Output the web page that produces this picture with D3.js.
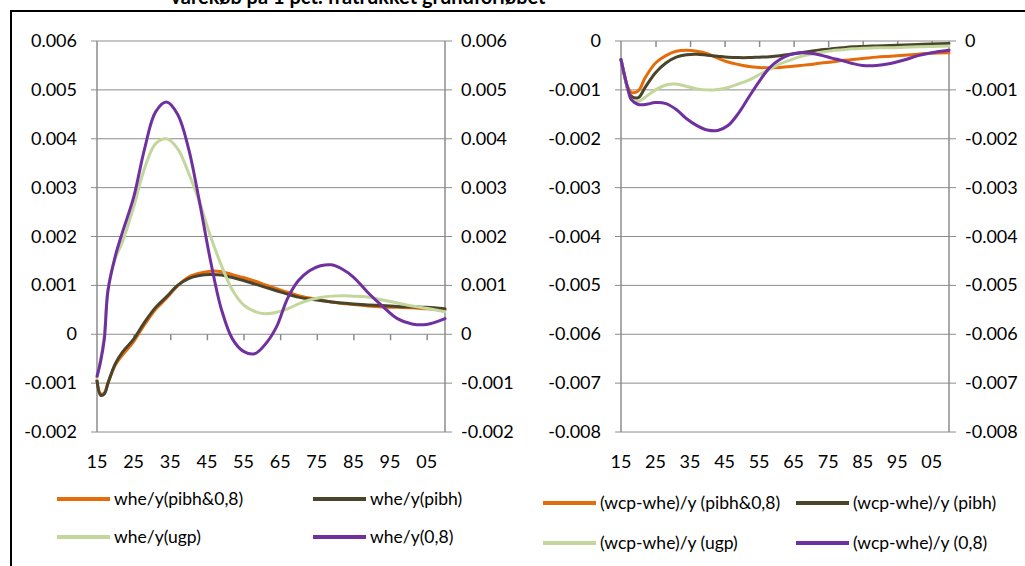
<!DOCTYPE html>
<html>
<head>
<meta charset="utf-8">
<script src="https://cdn.jsdelivr.net/npm/d3@7"></script>
<style>
  body { margin: 0; background: #fff; }
  text { font-family: Lato, "Open Sans", sans-serif; fill: #000; }
</style>
</head>
<body>
<div id="chart"></div>
<script>
// 1. Dados
const years = [2015, 2016, 2017, 2018, 2020, 2022, 2025, 2028, 2031, 2034, 2037, 2040, 2043, 2046, 2049,
  2052, 2055, 2058, 2061, 2064, 2067, 2070, 2073, 2076, 2079, 2082, 2085, 2089, 2093, 2097, 2101, 2105, 2110];
const xTicks = [2015, 2025, 2035, 2045, 2055, 2065, 2075, 2085, 2095, 2105];

const leftTicks = [-0.002, -0.001, 0, 0.001, 0.002, 0.003, 0.004, 0.005, 0.006];
const rightTicks = [-0.008, -0.007, -0.006, -0.005, -0.004, -0.003, -0.002, -0.001, 0];

// painel esquerdo: whe/y
const whePibh08 = [-0.00095, -0.00122, -0.0012, -0.001, -0.00063, -0.00042, -0.00015, 0.0002, 0.00051, 0.00074,
  0.00099, 0.00117, 0.00125, 0.00129, 0.00128, 0.00122, 0.00116, 0.00109, 0.00101, 0.00093, 0.00086, 0.00079,
  0.00074, 0.0007, 0.00066, 0.00063, 0.00061, 0.00058, 0.00056, 0.00055, 0.00054, 0.00052, 0.0005];
const whePibh = [-0.00095, -0.00125, -0.00122, -0.001, -0.0006, -0.00036, -0.0001, 0.00025, 0.00055, 0.00077,
  0.001, 0.00114, 0.0012, 0.00122, 0.00121, 0.00116, 0.0011, 0.00103, 0.00096, 0.00089, 0.00082, 0.00076,
  0.00072, 0.00069, 0.00066, 0.00064, 0.00062, 0.0006, 0.00059, 0.00057, 0.00056, 0.00055, 0.00052];
const wheUgp = [-0.0009, -0.0005, 0.0, 0.0009, 0.00155, 0.0019, 0.0026, 0.0034, 0.0039, 0.004,
  0.0038, 0.0033, 0.0027, 0.002, 0.0014, 0.0009, 0.0006, 0.00047, 0.00042, 0.00045, 0.00052, 0.00062,
  0.0007, 0.00075, 0.00078, 0.00079, 0.00078, 0.00076, 0.0007, 0.00064, 0.00058, 0.00053, 0.00046];
const whe08 = [-0.00086, -0.00055, -0.0001, 0.0009, 0.0016, 0.0021, 0.0028, 0.0038, 0.00455, 0.00475,
  0.0045, 0.0038, 0.0027, 0.0015, 0.0005, -0.0001, -0.00035, -0.0004, -0.0002, 0.00015, 0.00073, 0.0011,
  0.0013, 0.0014, 0.00142, 0.00133, 0.00117, 0.00085, 0.00057, 0.00032, 0.00021, 0.0002, 0.00032];

// painel direito: (wcp-whe)/y
const wcpPibh08 = [-0.00038, -0.0007, -0.00095, -0.00105, -0.00102, -0.00075, -0.00045, -0.0003, -0.00021, -0.00019,
  -0.00021, -0.00026, -0.00035, -0.00043, -0.00048, -0.00052, -0.00054, -0.00055, -0.00054, -0.00052, -0.0005, -0.00048,
  -0.00045, -0.00043, -0.0004, -0.00038, -0.00036, -0.00033, -0.00031, -0.00029, -0.00027, -0.00025, -0.00024];
const wcpPibh = [-0.00038, -0.0007, -0.001, -0.00113, -0.00116, -0.00095, -0.00065, -0.00045, -0.00033, -0.00028,
  -0.00027, -0.00029, -0.00031, -0.00033, -0.00034, -0.00034, -0.00033, -0.00032, -0.0003, -0.00027, -0.00024, -0.00021,
  -0.00018, -0.00016, -0.00014, -0.00012, -0.00011, -0.0001, -0.00009, -0.00008, -0.00007, -0.00006, -0.00005];
const wcpUgp = [-0.00038, -0.0007, -0.001, -0.0012, -0.00124, -0.00115, -0.001, -0.0009, -0.00088, -0.00093,
  -0.00098, -0.001, -0.00099, -0.00095, -0.00088, -0.0008, -0.00069, -0.00058, -0.00047, -0.00039, -0.00032, -0.00027,
  -0.00023, -0.0002, -0.00018, -0.00016, -0.00015, -0.00014, -0.00014, -0.00013, -0.00012, -0.00011, -0.0001];
const wcp08 = [-0.00038, -0.0007, -0.00098, -0.0012, -0.0013, -0.0013, -0.00126, -0.00128, -0.0014, -0.00159,
  -0.00173, -0.00182, -0.00183, -0.00173, -0.00148, -0.00115, -0.00083, -0.00055, -0.00038, -0.00028, -0.00024, -0.00025,
  -0.00029, -0.00035, -0.0004, -0.00046, -0.0005, -0.0005, -0.00046, -0.00039, -0.0003, -0.00024, -0.00019];

const leftNames = ["whe/y(pibh&0,8)", "whe/y(pibh)", "whe/y(ugp)", "whe/y(0,8)"];
const rightNames = ["(wcp-whe)/y (pibh&0,8)", "(wcp-whe)/y (pibh)", "(wcp-whe)/y (ugp)", "(wcp-whe)/y (0,8)"];
const colors = ["#E46C0A", "#4A452A", "#C3D69B", "#7030A0"];

const titleText = "varekøb på 1 pct. fratrukket grundforløbet";

// 2. SVG
const width = 1025;
const height = 566;
const gridColor = "#8C8C8C";

const svg = d3.select("#chart")
  .append("svg")
  .attr("width", width)
  .attr("height", height);

// moldura e título (cortado no topo, como no original)
svg.append("rect")
  .attr("x", 11).attr("y", 11)
  .attr("width", 1040).attr("height", 600)
  .attr("fill", "none")
  .attr("stroke", "#000")
  .attr("stroke-width", 2);

svg.append("text")
  .attr("x", 358).attr("y", 4)
  .attr("text-anchor", "middle")
  .attr("font-size", 20)
  .attr("font-weight", "bold")
  .text(titleText);

// 3. Função que desenha um painel
function drawPanel(p) {
  const x = d3.scaleLinear().domain([2015, 2110]).range([p.x0, p.x1]);
  const y = d3.scaleLinear().domain(p.domain).range([432, 41]);
  const g = svg.append("g");

  // linhas de grade horizontais (com marcas para fora dos dois lados)
  g.selectAll(".grid")
    .data(p.ticks)
    .enter()
    .append("line")
    .attr("x1", p.x0 - 6).attr("x2", p.x1 + 7)
    .attr("y1", d => y(d)).attr("y2", d => y(d))
    .attr("stroke", gridColor)
    .attr("stroke-width", 1);

  // eixos verticais
  [p.x0, p.x1].forEach(xx => {
    g.append("line")
      .attr("x1", xx).attr("x2", xx)
      .attr("y1", y(p.domain[0])).attr("y2", y(p.domain[1]))
      .attr("stroke", gridColor)
      .attr("stroke-width", 1.5);
  });

  // eixo de categorias cruza em zero
  const axisG = g.append("g").attr("transform", `translate(0,${y(0)})`);
  axisG.call(d3.axisBottom(x).tickValues(xTicks.slice(1)).tickSize(6).tickFormat(""));
  axisG.select(".domain").remove();
  axisG.selectAll("line").attr("stroke", gridColor).attr("stroke-width", 1.5);

  // rótulos do eixo x (em baixo)
  g.selectAll(".xlab")
    .data(xTicks)
    .enter()
    .append("text")
    .attr("x", d => x(d))
    .attr("y", 468)
    .attr("text-anchor", "middle")
    .attr("font-size", 18)
    .text(d => String(d).slice(2));

  // rótulos do eixo y, esquerda e direita
  const fmt = d => d === 0 ? "0" : d3.format(".3f")(d).replace("−", "-");
  g.selectAll(".ylabL")
    .data(p.ticks)
    .enter()
    .append("text")
    .attr("x", p.x0 - 20)
    .attr("y", d => y(d) + 6)
    .attr("text-anchor", "end")
    .attr("font-size", 18)
    .text(fmt);
  g.selectAll(".ylabR")
    .data(p.ticks)
    .enter()
    .append("text")
    .attr("x", p.x1 + 16)
    .attr("y", d => y(d) + 6)
    .attr("text-anchor", "start")
    .attr("font-size", 18)
    .text(fmt);

  // linhas suavizadas
  const line = d3.line()
    .x((d, i) => x(years[i]))
    .y(d => y(d))
    .curve(d3.curveCatmullRom.alpha(0.5));

  g.selectAll(".series")
    .data(p.series)
    .enter()
    .append("path")
    .attr("d", d => line(d))
    .attr("fill", "none")
    .attr("stroke", (d, i) => colors[i])
    .attr("stroke-width", 3)
    .attr("stroke-linejoin", "round")
    .attr("stroke-linecap", "round");

  // legenda 2x2
  const leg = g.selectAll(".leg")
    .data(p.names)
    .enter()
    .append("g")
    .attr("transform", (d, i) => `translate(${p.legX[i % 2]},${p.legY[Math.floor(i / 2)]})`);
  leg.append("line")
    .attr("x1", 0).attr("x2", 53)
    .attr("stroke", (d, i) => colors[i])
    .attr("stroke-width", 4);
  leg.append("text")
    .attr("x", 57)
    .attr("y", 6)
    .attr("font-size", 17.5)
    .text(d => d);
}

drawPanel({
  x0: 97, x1: 445,
  domain: [-0.002, 0.006],
  ticks: leftTicks,
  series: [whePibh08, whePibh, wheUgp, whe08],
  names: leftNames,
  legX: [57, 313],
  legY: [499, 537]
});

drawPanel({
  x0: 621, x1: 949,
  domain: [-0.008, 0],
  ticks: rightTicks,
  series: [wcpPibh08, wcpPibh, wcpUgp, wcp08],
  names: rightNames,
  legX: [543, 796],
  legY: [503, 543]
});
</script>
</body>
</html>
